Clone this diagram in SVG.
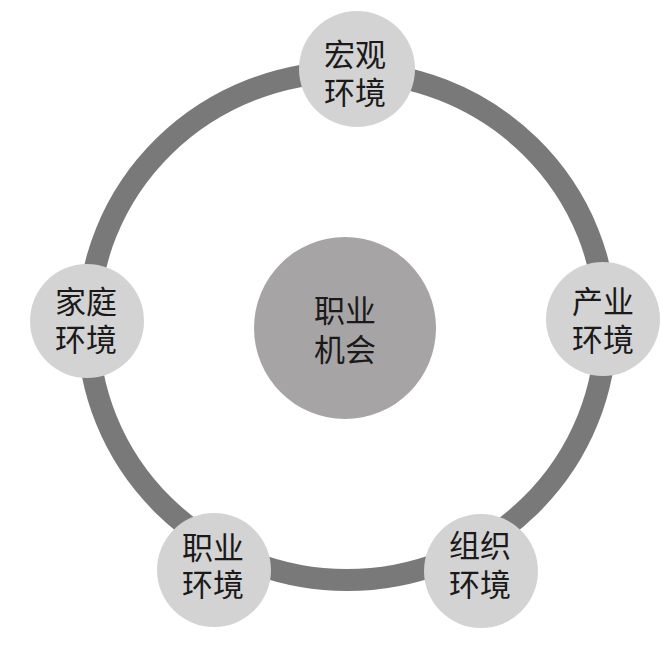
<svg xmlns="http://www.w3.org/2000/svg" width="661" height="658" viewBox="0 0 661 658">
<style>
.ring{fill:none;stroke:#797979;stroke-width:22}
.node{fill:#d3d3d3}
.hub{fill:#a6a4a5}
text{font-family:"Noto Sans CJK SC","Liberation Serif",serif;font-size:31px;fill:#1a1a1a;text-anchor:middle;dominant-baseline:central}
</style>
<rect width="661" height="658" fill="#ffffff"/>
<g id="connectors">
<ellipse class="ring" cx="347" cy="326" rx="259" ry="254"/>
</g>
<g id="hub">
<circle class="hub" cx="345" cy="328" r="91"/>
<text x="345" y="308">职业<tspan x="345" dy="39">机会</tspan></text>
</g>
<g id="macro">
<circle class="node" cx="357" cy="69" r="58"/>
<text x="355" y="52">宏观<tspan x="355" dy="38">环境</tspan></text>
</g>
<g id="industry">
<circle class="node" cx="603" cy="319" r="57"/>
<text x="603" y="299">产业<tspan x="603" dy="38">环境</tspan></text>
</g>
<g id="organization">
<circle class="node" cx="481" cy="571" r="57"/>
<text x="480" y="543">组织<tspan x="480" dy="39">环境</tspan></text>
</g>
<g id="career">
<circle class="node" cx="214" cy="570" r="57"/>
<text x="213" y="545">职业<tspan x="213" dy="37">环境</tspan></text>
</g>
<g id="family">
<circle class="node" cx="87" cy="321" r="57"/>
<text x="86" y="299">家庭<tspan x="86" dy="38">环境</tspan></text>
</g>
</svg>
